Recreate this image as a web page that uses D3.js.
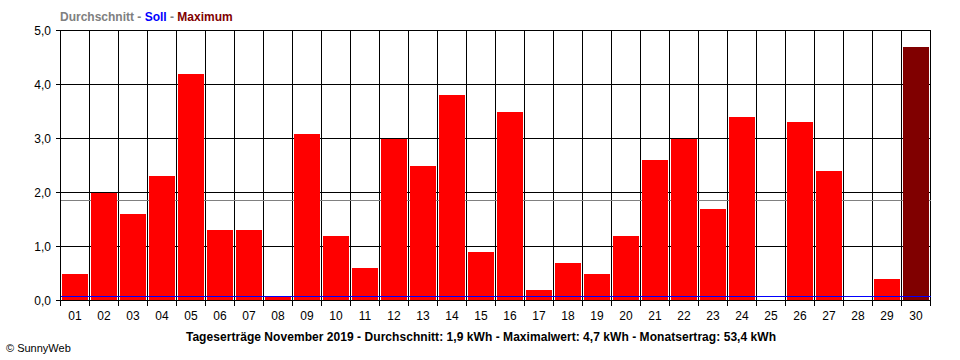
<!DOCTYPE html>
<html><head><meta charset="utf-8">
<script src="https://cdn.jsdelivr.net/npm/d3@7"></script>
<style>body{margin:0;background:#fff}svg{display:block}text{font-family:"Liberation Sans",Arial,sans-serif}line,rect{shape-rendering:crispEdges}</style>
</head><body>
<svg id="c" width="960" height="360"></svg>
<script>
const days = ["01","02","03","04","05","06","07","08","09","10","11","12","13","14","15","16","17","18","19","20","21","22","23","24","25","26","27","28","29","30"];
const values = [0.5,2.0,1.6,2.3,4.2,1.3,1.3,0.07,3.08,1.2,0.6,3.0,2.5,3.8,0.9,3.5,0.2,0.7,0.5,1.2,2.6,3.0,1.7,3.4,0,3.3,2.4,0,0.4,4.7];
const average = 1.852;
const target = 0.074;
const yTicks = [0,1,2,3,4,5];
const yTickLabels = ["0,0","1,0","2,0","3,0","4,0","5,0"];
const caption = "Tageserträge November 2019 - Durchschnitt: 1,9 kWh - Maximalwert: 4,7 kWh - Monatsertrag: 53,4 kWh";

const svg = d3.select("#c");
const L=60.5, R=930.5, T=30.5, B=300.5;
const x = d3.scaleBand().domain(days).range([L,R]).padding(0);
const y = d3.scaleLinear().domain([0,5]).range([B,T]);
const maxV = d3.max(values);
const py = v => Math.floor(y(v)) + 0.5;

// vertical gridlines (band boundaries)
const bounds = days.map(d=>x(d)).concat([R]);
svg.append("g").selectAll("line").data(bounds).join("line")
  .attr("x1",d=>d).attr("x2",d=>d).attr("y1",T).attr("y2",B+5)
  .attr("stroke","#000").attr("stroke-width",1);
// horizontal gridlines
svg.append("g").selectAll("line").data(yTicks).join("line")
  .attr("x1",L-5).attr("x2",R).attr("y1",d=>py(d)).attr("y2",d=>py(d))
  .attr("stroke","#000").attr("stroke-width",1);

// average line
svg.append("line").attr("x1",L).attr("x2",R).attr("y1",py(average)).attr("y2",py(average))
  .attr("stroke","#808080").attr("stroke-width",1);

// bars
svg.append("g").selectAll("rect").data(values.map((v,i)=>({d:days[i],v}))).join("rect")
  .attr("x",d=>x(d.d)+1.5).attr("width",x.bandwidth()-3)
  .attr("y",d=>y(d.v)).attr("height",d=>Math.max(0,B-0.5-y(d.v)))
  .attr("fill",d=>d.v===maxV?"#800000":"#ff0000");

// target line
svg.append("line").attr("x1",L).attr("x2",R).attr("y1",py(target)).attr("y2",py(target))
  .attr("stroke","#0000ff").attr("stroke-width",1);

// x axis baseline
svg.append("line").attr("x1",L-5).attr("x2",R).attr("y1",B).attr("y2",B).attr("stroke","#000").attr("stroke-width",1);
svg.append("line").attr("x1",L).attr("x2",L).attr("y1",T).attr("y2",B+5).attr("stroke","#000").attr("stroke-width",1);

// y labels
svg.append("g").selectAll("text").data(yTicks).join("text")
  .attr("x",51).attr("y",d=>y(d)+4).attr("text-anchor","end")
  .style("font-size","12px").attr("fill","#000").text((d,i)=>yTickLabels[i]);
// x labels
svg.append("g").selectAll("text").data(days).join("text")
  .attr("x",d=>x(d)+x.bandwidth()/2).attr("y",320).attr("text-anchor","middle")
  .style("font-size","12px").attr("fill","#000").text(d=>d);

// legend
const lg = svg.append("text").attr("x",60).attr("y",21).style("font-size","12px").style("font-weight","bold");
lg.append("tspan").attr("fill","#808080").text("Durchschnitt - ");
lg.append("tspan").attr("fill","#0000ff").text("Soll");
lg.append("tspan").attr("fill","#808080").text(" - ");
lg.append("tspan").attr("fill","#800000").text("Maximum");

// caption
svg.append("text").attr("x",481).attr("y",341).attr("text-anchor","middle")
  .style("font-size","12px").style("font-weight","bold").style("letter-spacing","0.05px").attr("fill","#000").text(caption);
svg.append("text").attr("x",6).attr("y",352).style("font-size","11px").attr("fill","#000").text("© SunnyWeb");
</script>
</body></html>
